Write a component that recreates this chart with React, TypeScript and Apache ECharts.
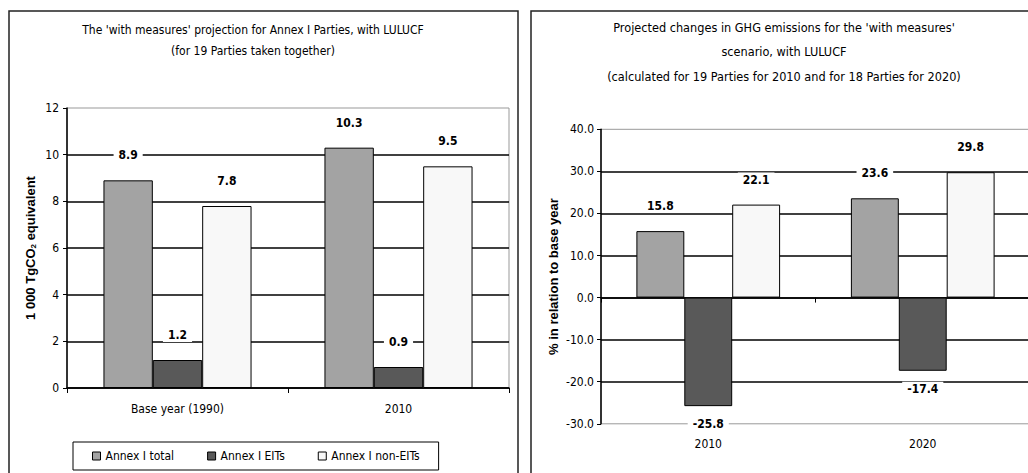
import React, { useEffect, useRef } from 'react';
import * as echarts from 'echarts';

const categoriesLeft = ['Base year (1990)', '2010'];
const totalLeft = [8.9, 10.3];
const eitLeft = [1.2, 0.9];
const nonEitLeft = [7.8, 9.5];

const categoriesRight = ['2010', '2020'];
const totalRight = [15.8, 23.6];
const eitRight = [-25.8, -17.4];
const nonEitRight = [22.1, 29.8];

const seriesNames = ['Annex I total', 'Annex I EITs', 'Annex I non-EITs'];
const seriesColors = ['#a3a3a3', '#595959', '#f8f8f8'];

const leftTitle = ["The 'with measures' projection for Annex I Parties, with LULUCF", '(for 19 Parties taken together)'];
const rightTitle = [
  "Projected changes in GHG emissions for the 'with measures'",
  'scenario, with LULUCF',
  '(calculated for 19 Parties for 2010 and for 18 Parties for 2020)',
];
const heading = 'Figure 4. Projected greenhouse gas emissions of Annex I Parties, with LULUCF';

const NARROW = '"Liberation Sans Narrow", "Arial Narrow", "DejaVu Sans Condensed", sans-serif';
const ARIAL = '"Liberation Sans", Arial, sans-serif';
const SERIF = '"Liberation Serif", "Times New Roman", serif';

const fmt1 = (v: any) => Number(v).toFixed(1);

const mkData = (vals: number[]) =>
  vals.map((v) => ({
    value: v,
    label: { position: v < 0 ? 'bottom' : 'top', distance: v < 0 ? 11 : 18 },
  }));

const mkSeries = (name: string, color: string, data: number[], xIdx: number, yIdx: number) => ({
  type: 'bar',
  name,
  xAxisIndex: xIdx,
  yAxisIndex: yIdx,
  data: mkData(data),
  barGap: '0%',
  barCategoryGap: '33%',
  silent: true,
  itemStyle: { color, borderColor: '#000', borderWidth: 1 },
  label: {
    show: true,
    formatter: (p: any) => fmt1(p.value),
    fontFamily: NARROW,
    fontSize: 12,
    fontWeight: 'bold',
    color: '#000',
    backgroundColor: '#fff',
    padding: [1, 5],
  },
});

const axisText = { fontFamily: NARROW, fontSize: 12, color: '#000' };
const black = { color: '#000', width: 1.5 };

export default function App() {
  const ref = useRef<HTMLDivElement>(null);
  useEffect(() => {
    if (!ref.current) return;
    const chart = echarts.init(ref.current, undefined, { renderer: 'svg' });
    const titleTexts: any[] = [];
    leftTitle.forEach((t, i) =>
      titleTexts.push({
        type: 'text',
        x: 253,
        y: 30 + i * 21,
        style: { text: t, font: `12px ${NARROW}`, fill: '#000', textAlign: 'center', textVerticalAlign: 'middle' },
      })
    );
    rightTitle.forEach((t, i) =>
      titleTexts.push({
        type: 'text',
        x: 784,
        y: 27 + i * 24.5,
        style: { text: t, font: `12.6px ${NARROW}`, fill: '#000', textAlign: 'center', textVerticalAlign: 'middle' },
      })
    );
    const option: any = {
      animation: false,
      backgroundColor: '#fff',
      grid: [
        { left: 67, top: 108, width: 442, height: 280, show: true, borderColor: '#999', borderWidth: 1, backgroundColor: 'transparent', containLabel: false, outerBoundsMode: 'none' },
        { left: 601, top: 129.3, width: 429, height: 294.5, show: true, borderColor: '#999', borderWidth: 1, backgroundColor: 'transparent', containLabel: false, outerBoundsMode: 'none' },
      ],
      legend: {
        data: seriesNames,
        left: 73,
        top: 442,
        orient: 'horizontal',
        icon: 'rect',
        itemWidth: 8,
        itemHeight: 8,
        itemGap: 33,
        padding: [8, 19],
        borderColor: '#000',
        borderWidth: 1,
        selectedMode: false,
        itemStyle: { borderColor: '#000', borderWidth: 1 },
        textStyle: { ...axisText },
      },
      xAxis: [
        {
          gridIndex: 0,
          type: 'category',
          data: categoriesLeft,
          position: 'bottom',
          axisLine: { show: true, lineStyle: black },
          axisTick: { show: true, length: 5, lineStyle: { color: '#000' } },
          axisLabel: { ...axisText, margin: 15 },
        },
        {
          gridIndex: 1,
          type: 'category',
          data: categoriesRight,
          position: 'bottom',
          axisLine: { show: false, onZero: false },
          axisTick: { show: false },
          axisLabel: { ...axisText, margin: 14 },
        },
        {
          gridIndex: 1,
          type: 'category',
          data: categoriesRight,
          position: 'bottom',
          axisLine: { show: true, onZero: true, lineStyle: black },
          axisTick: { show: true, length: 5, lineStyle: { color: '#000' } },
          axisLabel: { show: false },
        },
      ],
      yAxis: [
        {
          gridIndex: 0,
          type: 'value',
          min: 0,
          max: 12,
          interval: 2,
          axisLine: { show: true, lineStyle: black },
          axisTick: { show: true, length: 4, lineStyle: { color: '#000' } },
          axisLabel: { ...axisText, margin: 8 },
          splitLine: { show: true, showMaxLine: false, lineStyle: black },
          name: '1 000 TgCO{sub|2} equivalent',
          nameLocation: 'middle',
          nameGap: 30,
          nameTextStyle: {
            fontFamily: ARIAL,
            fontSize: 13,
            fontWeight: 'bold',
            color: '#000',
            rich: {
              sub: { fontFamily: ARIAL, fontSize: 8, fontWeight: 'bold', color: '#000', verticalAlign: 'bottom', padding: [6, 0, 0, 0] },
            },
          },
        },
        {
          gridIndex: 1,
          type: 'value',
          min: -30,
          max: 40,
          interval: 10,
          axisLine: { show: true, onZero: false, lineStyle: black },
          axisTick: { show: true, length: 4, lineStyle: { color: '#000' } },
          axisLabel: { ...axisText, margin: 7, formatter: (v: number) => v.toFixed(1) },
          splitLine: { show: true, showMinLine: false, showMaxLine: false, lineStyle: black },
          name: '% in relation to base year',
          nameLocation: 'middle',
          nameGap: 41,
          nameTextStyle: { fontFamily: ARIAL, fontSize: 13, fontWeight: 'bold', color: '#000' },
        },
      ],
      series: [
        mkSeries(seriesNames[0], seriesColors[0], totalLeft, 0, 0),
        mkSeries(seriesNames[1], seriesColors[1], eitLeft, 0, 0),
        mkSeries(seriesNames[2], seriesColors[2], nonEitLeft, 0, 0),
        mkSeries(seriesNames[0], seriesColors[0], totalRight, 1, 1),
        mkSeries(seriesNames[1], seriesColors[1], eitRight, 1, 1),
        mkSeries(seriesNames[2], seriesColors[2], nonEitRight, 1, 1),
      ],
      graphic: [
        {
          type: 'text',
          x: 12,
          y: -12.5,
          style: { text: heading, font: `bold 20px ${SERIF}`, fill: '#000', textAlign: 'left', textVerticalAlign: 'middle' },
        },
        {
          type: 'rect',
          shape: { x: 9, y: 11, width: 509, height: 500 },
          style: { fill: 'none', stroke: '#222', lineWidth: 1.5 },
        },
        {
          type: 'rect',
          shape: { x: 531, y: 11, width: 520, height: 500 },
          style: { fill: 'none', stroke: '#222', lineWidth: 1.5 },
        },
        ...titleTexts,
      ],
    };
    chart.setOption(option);
    return () => chart.dispose();
  }, []);
  return <div ref={ref} style={{ position: 'fixed', left: 0, top: 0, width: 1028, height: 473 }} />;
}
